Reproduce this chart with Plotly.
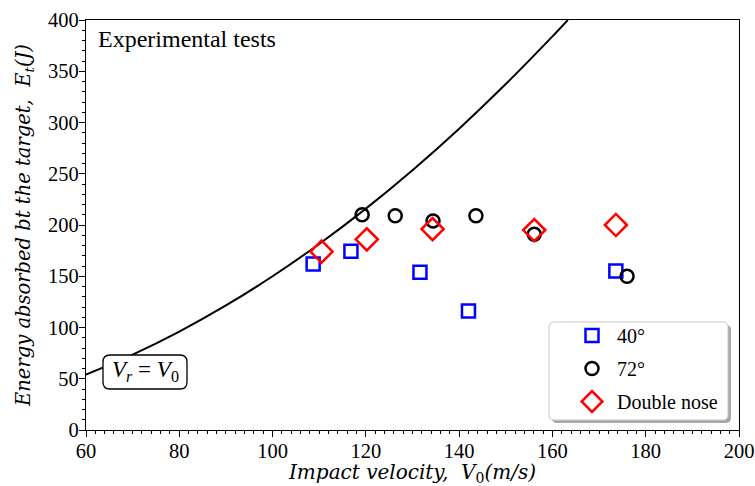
import plotly.graph_objects as go

# ---- data ----
v40 = [108.7, 116.8, 131.6, 142.0, 173.6]
e40 = [162, 174.5, 154, 116, 155]

v72 = [119.2, 126.3, 134.4, 143.6, 156.1, 176.0]
e72 = [210, 209, 204, 209, 191, 150]

vdn = [110.5, 120.2, 134.3, 156.1, 173.6]
edn = [174, 186, 196, 195, 200]

# theoretical curve Vr = V0
v_curve = [60, 70, 80, 90, 100, 110, 120, 130, 140, 150, 160, 163.3]
e_curve = [54, 73.5, 96, 121.5, 150, 181.5, 216, 253.5, 294, 337.5, 384, 400]

x_ticks = [60, 80, 100, 120, 140, 160, 180, 200]
y_ticks = [0, 50, 100, 150, 200, 250, 300, 350, 400]

FONT = "Liberation Serif"
TFONT = "DejaVu Serif"

# plot area in pixels
L, R, T, B = 86, 739, 20, 430
W, H = R - L, B - T


def px(x):
    return (x - L) / W


def py(y):
    return (B - y) / H


def rounded(x0, y0, x1, y1, r):
    # pixel box -> paper path with rounded corners
    X0, X1 = px(x0), px(x1)
    Y0, Y1 = py(y1), py(y0)
    rx, ry = r / W, r / H
    return (f"M {X0+rx},{Y0} L {X1-rx},{Y0} Q {X1},{Y0} {X1},{Y0+ry} L {X1},{Y1-ry} Q {X1},{Y1} {X1-rx},{Y1} "
            f"L {X0+rx},{Y1} Q {X0},{Y1} {X0},{Y1-ry} L {X0},{Y0+ry} Q {X0},{Y0} {X0+rx},{Y0} Z")


fig = go.Figure()
fig.add_trace(go.Scatter(x=v_curve, y=e_curve, mode="lines", line=dict(color="black", width=2, shape="spline"),
                         showlegend=False, hoverinfo="skip"))
fig.add_trace(go.Scatter(x=v40, y=e40, mode="markers", name="40°", legendgroup="a",
                         marker=dict(symbol="square-open", size=13, color="#0000ff", line=dict(width=2.5, color="#0000ff"))))
fig.add_trace(go.Scatter(x=v72, y=e72, mode="markers", name="72°", legendgroup="b",
                         marker=dict(symbol="circle-open", size=13, color="black", line=dict(width=2.5, color="black"))))
fig.add_trace(go.Scatter(x=vdn, y=edn, mode="markers", name="Double nose", legendgroup="c",
                         marker=dict(symbol="diamond-open", size=17, color="#ff0000", line=dict(width=2.5, color="#ff0000"))))

# rounded box for the Vr = V0 label
fig.add_shape(type="path", path=rounded(103, 355, 187, 389, 7), xref="paper", yref="paper", fillcolor="white",
              line=dict(color="black", width=1.3), layer="above")
fig.add_annotation(x=px(145), y=py(371), xref="paper", yref="paper", showarrow=False,
                   xanchor="center", yanchor="middle",
                   text="<i>V</i><sub><i>r</i></sub> = <i>V</i><sub>0</sub>",
                   font=dict(family=FONT, size=23, color="black"))
fig.add_annotation(x=px(96), y=py(24), xref="paper", yref="paper", xanchor="left", yanchor="top",
                   showarrow=False, text="Experimental tests", font=dict(family=FONT, size=24, color="black"))

# legend box with shadow
fig.add_shape(type="path", path=rounded(552, 325, 731, 423, 5), xref="paper", yref="paper",
              fillcolor="#a8a8a8", line=dict(width=0), layer="above")
fig.add_shape(type="path", path=rounded(549, 322, 728, 420, 5), xref="paper", yref="paper",
              fillcolor="white", line=dict(color="#c8c8c8", width=1), layer="above")

axis_common = dict(showline=True, linecolor="black", linewidth=1.3, mirror=True, ticks="outside",
                   ticklen=6, tickwidth=1.2, tickcolor="black", showgrid=False, zeroline=False,
                   automargin=False, ticklabelstandoff=-4,
                   tickfont=dict(family=FONT, size=20.5, color="black"))
fig.update_xaxes(range=[60, 200], tickvals=x_ticks,
                 minor=dict(dtick=2, ticks="outside", ticklen=3, tickcolor="black", tickwidth=1),
                 title=dict(text="<i>Impact velocity,  V</i><sub>0</sub><i>(m/s)</i>",
                            font=dict(family=TFONT, size=20, color="black"), standoff=8),
                 **axis_common)
fig.update_yaxes(range=[0, 400], tickvals=y_ticks,
                 minor=dict(dtick=10, ticks="outside", ticklen=3, tickcolor="black", tickwidth=1),
                 title=dict(text="<i>Energy absorbed bt the target,  E</i><sub><i>t</i></sub><i>(J)</i>",
                            font=dict(family=TFONT, size=19.5, color="black"), standoff=12),
                 **axis_common)

fig.update_layout(width=755, height=486, margin=dict(l=L, r=755 - R, t=T, b=486 - B),
                  plot_bgcolor="white", paper_bgcolor="white",
                  legend=dict(x=px(567), y=py(316), xanchor="left", yanchor="top",
                              bgcolor="rgba(0,0,0,0)", borderwidth=0,
                              font=dict(family=FONT, size=20, color="black"),
                              itemwidth=40, tracegroupgap=4),
                  font=dict(family=FONT))

fig.write_html("out.html")
